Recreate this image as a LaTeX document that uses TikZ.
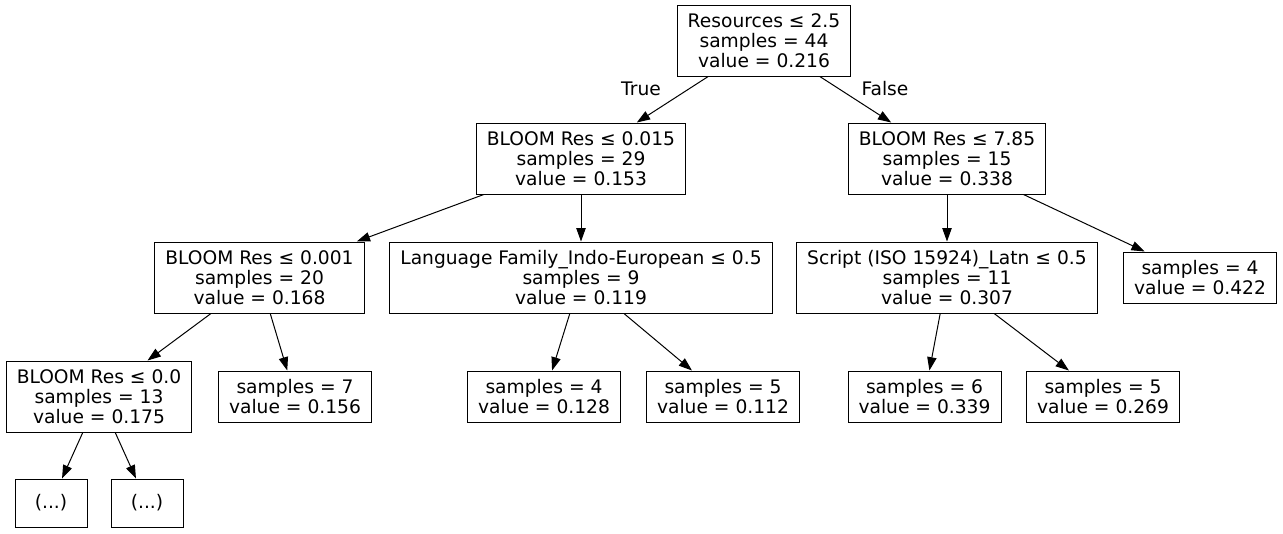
\documentclass[tikz,border=0pt]{standalone}
\usepackage{fontspec}
\setmainfont{DejaVu Sans}
\usetikzlibrary{arrows.meta}

\begin{document}
\begin{tikzpicture}[x=0.75pt, y=-0.75pt, line width=0.75pt,
    font=\fontsize{14}{15}\selectfont,
    box/.style={draw, rectangle, align=center, inner xsep=7.9pt, inner ysep=0pt, minimum width=54pt},
    split/.style={box, minimum height=53.25pt},
    leaf/.style={box, minimum height=38.25pt},
    more/.style={box, minimum height=36pt},
    >={Triangle[length=10pt,width=7pt]}]
    \useasboundingbox (0,0) rectangle (1283,533);
    % splits
    \node [split] (root) at (764,40.5) {Resources ≤ 2.5\\samples = 44\\value = 0.216};
    \node [split] (bl) at (581,158.5) {BLOOM Res ≤ 0.015\\samples = 29\\value = 0.153};
    \node [split] (br) at (947,158.5) {BLOOM Res ≤ 7.85\\samples = 15\\value = 0.338};
    \node [split] (bll) at (259.5,277.5) {BLOOM Res ≤ 0.001\\samples = 20\\value = 0.168};
    \node [split] (lang) at (581,277.5) {Language Family\_Indo-European ≤ 0.5\\samples = 9\\value = 0.119};
    \node [split] (script) at (947,277.5) {Script (ISO 15924)\_Latn ≤ 0.5\\samples = 11\\value = 0.307};
    \node [split] (blll) at (99,396.5) {BLOOM Res ≤ 0.0\\samples = 13\\value = 0.175};
    % leaves
    \node [leaf] (s4a) at (1200,277.5) {samples = 4\\value = 0.422};
    \node [leaf] (s7) at (295,396.5) {samples = 7\\value = 0.156};
    \node [leaf] (s4b) at (544,396.5) {samples = 4\\value = 0.128};
    \node [leaf] (s5a) at (723,396.5) {samples = 5\\value = 0.112};
    \node [leaf] (s6) at (924.5,396.5) {samples = 6\\value = 0.339};
    \node [leaf] (s5b) at (1103,396.5) {samples = 5\\value = 0.269};
    \node [more] (dl) at (51,503) {(...)};
    \node [more] (dr) at (147,503) {(...)};
    % edges
    \draw [->] (root) -- (bl);
    \draw [->] (root) -- (br);
    \node (true) at (641,89) {True};
    \node (false) at (885,89) {False};
    \draw [->] (bl) -- (bll);
    \draw [->] (bl) -- (lang);
    \draw [->] (br) -- (script);
    \draw [->] (br) -- (s4a);
    \draw [->] (bll) -- (blll);
    \draw [->] (bll) -- (s7);
    \draw [->] (lang) -- (s4b);
    \draw [->] (lang) -- (s5a);
    \draw [->] (script) -- (s6);
    \draw [->] (script) -- (s5b);
    \draw [->] (blll) -- (dl);
    \draw [->] (blll) -- (dr);
\end{tikzpicture}
\end{document}
